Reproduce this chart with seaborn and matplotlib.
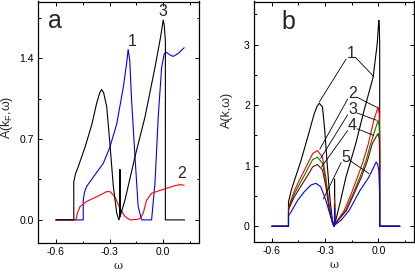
import numpy as np
import pandas as pd
import matplotlib
matplotlib.use("Agg")
import matplotlib.pyplot as plt
import seaborn as sns
from matplotlib.ticker import FixedLocator

# ---------------- panel a data: A(k_F, w) ----------------
a1_w = [-0.6, -0.447, -0.447, -0.44, -0.428, -0.391, -0.335, -0.298, -0.26, -0.223, -0.205,
        -0.196, -0.187, -0.177, -0.158, -0.14, -0.121, -0.065, -0.046, -0.028, -0.009,
        0.006, 0.018, 0.035, 0.056, 0.084, 0.117]
a1_A = [0, 0, 0.17, 0.24, 0.29, 0.37, 0.49, 0.63, 0.83, 1.15, 1.35,
        1.475, 1.38, 1.04, 0.55, 0.115, 0.0, 0.0, 0.32, 0.89, 1.32,
        1.44, 1.45, 1.43, 1.415, 1.44, 1.49]

a2_w = [-0.6, -0.488, -0.48, -0.465, -0.428, -0.372, -0.316, -0.298, -0.27, -0.242, -0.214,
        -0.186, -0.14, -0.125, -0.112, -0.093, -0.065, -0.009, 0.065, 0.093, 0.117]
a2_A = [0, 0, 0.058, 0.115, 0.16, 0.2, 0.245, 0.245, 0.2, 0.1, 0.03,
        0.0, 0.005, 0.02, 0.058, 0.17, 0.23, 0.26, 0.296, 0.305, 0.30]

a3_w = [-0.6, -0.5, -0.5, -0.49, -0.475, -0.455, -0.437, -0.4, -0.372, -0.355, -0.344, -0.333,
        -0.316, -0.298, -0.279, -0.26, -0.248, -0.243, -0.242, -0.241, -0.214, -0.158, -0.102,
        -0.046, -0.015, 0.0, 0.006, 0.012, 0.012, 0.12]
a3_A = [0, 0, 0.33, 0.40, 0.46, 0.55, 0.63, 0.82, 1.01, 1.10, 1.128, 1.10,
        0.98, 0.66, 0.29, 0.058, 0.0, 0.02, 0.437, 0.03, 0.17, 0.546, 0.89,
        1.32, 1.58, 1.73, 1.68, 1.55, 0.0, 0.0]

# ---------------- panel b data: A(k, w) ----------------
b1_w = [-0.6, -0.506, -0.506, -0.49, -0.472, -0.435, -0.398, -0.361, -0.345, -0.333, -0.315,
        -0.302, -0.287, -0.272, -0.259, -0.25, -0.247, -0.247, -0.246,
        -0.215, -0.183, -0.128, -0.081, -0.03, -0.007, 0.002, 0.005, 0.007, 0.007, 0.12]
b1_A = [0, 0, 0.40, 0.60, 0.76, 1.09, 1.47, 1.86, 1.98, 2.03, 1.97,
        1.58, 0.98, 0.43, 0.10, 0.0, 0.02, 0.78, 0.03,
        0.40, 0.81, 1.36, 1.91, 2.46, 3.01, 3.40, 3.30, 3.00, 0.0, 0.0]

b2_w = [-0.6, -0.506, -0.506, -0.49, -0.472, -0.445, -0.417, -0.39, -0.37, -0.343, -0.315,
        -0.296, -0.278, -0.259, -0.25, -0.247, -0.247, -0.246,
        -0.193, -0.155, -0.118, -0.085, -0.057, -0.026, -0.002, 0.004, 0.007, 0.007, 0.12]
b2_A = [0, 0, 0.30, 0.45, 0.59, 0.76, 0.92, 1.08, 1.20, 1.25, 1.14,
        0.81, 0.37, 0.07, 0.0, 0.02, 0.46, 0.03,
        0.26, 0.52, 0.81, 1.08, 1.36, 1.75, 1.97, 1.85, 1.50, 0.0, 0.0]

b3_w = [-0.6, -0.506, -0.506, -0.49, -0.472, -0.445, -0.417, -0.39, -0.37, -0.343, -0.315,
        -0.296, -0.278, -0.259, -0.25, -0.247, -0.247, -0.246,
        -0.185, -0.145, -0.104, -0.07, -0.044, -0.02, -0.002, 0.004, 0.007, 0.007, 0.12]
b3_A = [0, 0, 0.28, 0.41, 0.54, 0.69, 0.84, 0.99, 1.10, 1.14, 1.04,
        0.74, 0.34, 0.06, 0.0, 0.02, 0.40, 0.03,
        0.26, 0.52, 0.81, 1.08, 1.36, 1.58, 1.75, 1.65, 1.35, 0.0, 0.0]

b4_w = [-0.6, -0.506, -0.506, -0.49, -0.472, -0.445, -0.417, -0.39, -0.37, -0.343, -0.315,
        -0.296, -0.278, -0.259, -0.25, -0.247, -0.247, -0.246,
        -0.18, -0.14, -0.096, -0.062, -0.035, -0.015, -0.002, 0.004, 0.007, 0.007, 0.12]
b4_A = [0, 0, 0.27, 0.38, 0.49, 0.62, 0.75, 0.88, 0.98, 1.02, 0.93,
        0.66, 0.30, 0.06, 0.0, 0.02, 0.36, 0.03,
        0.26, 0.52, 0.81, 1.08, 1.36, 1.47, 1.53, 1.45, 1.20, 0.0, 0.0]

b5_w = [-0.6, -0.506, -0.506, -0.491, -0.454, -0.417, -0.38, -0.352, -0.324, -0.296, -0.268,
        -0.25, -0.247, -0.247, -0.246,
        -0.21, -0.165, -0.104, -0.054, -0.026, -0.013, -0.005, 0.002, 0.007, 0.007, 0.12]
b5_A = [0, 0, 0.17, 0.24, 0.43, 0.57, 0.68, 0.71, 0.65, 0.43, 0.15,
        0.0, 0.02, 0.30, 0.02,
        0.10, 0.26, 0.59, 0.81, 0.98, 1.06, 1.03, 0.92, 0.51, 0.0, 0.0]

a_labels = ["1", "2", "3"]
b_labels = ["1", "2", "3", "4", "5"]
x_ticks = [-0.6, -0.3, 0.0]
a_yticks = [0.0, 0.7, 1.4]
b_yticks = [0, 1, 2, 3]

sns.set_theme(style="ticks")
plt.rcParams["font.family"] = ["Liberation Sans", "DejaVu Sans"]
plt.rcParams["axes.unicode_minus"] = False
plt.rcParams["mathtext.fontset"] = "custom"
plt.rcParams["mathtext.rm"] = "Liberation Sans"
plt.rcParams["mathtext.it"] = "Liberation Sans"

fig = plt.figure(figsize=(4.15, 2.75), dpi=100)
ax1 = fig.add_axes([38 / 415, 1 - 243 / 275, 161 / 415, 241.5 / 275])
ax2 = fig.add_axes([254 / 415, 1 - 242 / 275, 160 / 415, 240.5 / 275])

lw = 0.8

def draw(ax, w, A, color):
    df = pd.DataFrame({"w": w, "A": A})
    sns.lineplot(data=df, x="w", y="A", sort=False, estimator=None, color=color,
                 lw=lw, ax=ax)

draw(ax1, a1_w, a1_A, "#0000ff")
draw(ax1, a2_w, a2_A, "#ff0000")
draw(ax1, a3_w, a3_A, "#000000")

draw(ax2, b1_w, b1_A, "#000000")
draw(ax2, b2_w, b2_A, "#ff0000")
draw(ax2, b3_w, b3_A, "#008000")
draw(ax2, b4_w, b4_A, "#800000")
draw(ax2, b5_w, b5_A, "#0000ff")

def style(ax, yt, ylim, yminor, ylabel, fmt):
    ax.set_xlim(-0.7, 0.2)
    ax.set_ylim(*ylim)
    ax.xaxis.set_major_locator(FixedLocator(x_ticks))
    ax.xaxis.set_minor_locator(FixedLocator([-0.45, -0.15, 0.15]))
    ax.yaxis.set_major_locator(FixedLocator(yt))
    ax.yaxis.set_minor_locator(FixedLocator(yminor))
    ax.set_xticklabels(["%.1f" % v for v in x_ticks])
    ax.set_yticklabels([fmt % v for v in yt])
    ax.tick_params(which="both", direction="in", top=True, right=True,
                   labelsize=7.5, width=0.7, colors="black", pad=3)
    ax.tick_params(which="major", length=3)
    ax.tick_params(which="minor", length=1.8)
    for s in ax.spines.values():
        s.set_linewidth(0.9)
        s.set_color("black")
    ax.set_xlabel("ω", fontsize=8, family=["DejaVu Serif"])
    ax.set_ylabel(ylabel, fontsize=9)
    ax.xaxis.set_label_coords(0.5, -0.075)

style(ax1, a_yticks, (-0.2, 1.89), [0.35, 1.05, 1.75], "A(k$_\\mathregular{F}$,ω)", "%.1f")
style(ax2, b_yticks, (-0.26, 3.71), [0.5, 1.5, 2.5, 3.5], "A(k,ω)", "%d")
ax1.yaxis.set_label_coords(-0.14, 0.52)
ax2.yaxis.set_label_coords(-0.13, 0.55)

lab_fs = 11.5
ax1.text(-0.604, 1.72, "a", fontsize=18, ha="center", va="center")
ax2.text(-0.509, 3.37, "b", fontsize=18, ha="center", va="center")

a_pos = [(-0.173, 1.547), (0.103, 0.403), (0.0, 1.806)]
for t, (x, y) in zip(a_labels, a_pos):
    ax1.text(x, y, t, fontsize=lab_fs, ha="center", va="center")

b_pos = [(-0.155, 2.85), (-0.146, 2.19), (-0.146, 1.93), (-0.146, 1.67), (-0.183, 1.14)]
b_left = [(-0.333, 2.05), (-0.33, 1.27), (-0.325, 1.12), (-0.32, 0.98), (-0.31, 0.45)]
b_right = [(-0.026, 2.47), (-0.007, 1.96), (-0.011, 1.75), (-0.026, 1.50), (-0.054, 0.87)]
for t, (x, y), L, R in zip(b_labels, b_pos, b_left, b_right):
    ax2.text(x, y, t, fontsize=lab_fs, ha="center", va="center")
    ax2.annotate("", xy=L, xytext=(x - 0.027, y - 0.09),
                 arrowprops=dict(arrowstyle="-", lw=0.6, color="black",
                                 shrinkA=0, shrinkB=0))
    ax2.annotate("", xy=R, xytext=(x + 0.025, y - 0.06),
                 arrowprops=dict(arrowstyle="-", lw=0.6, color="black",
                                 shrinkA=0, shrinkB=0))

fig.savefig("out.png", dpi=100)
